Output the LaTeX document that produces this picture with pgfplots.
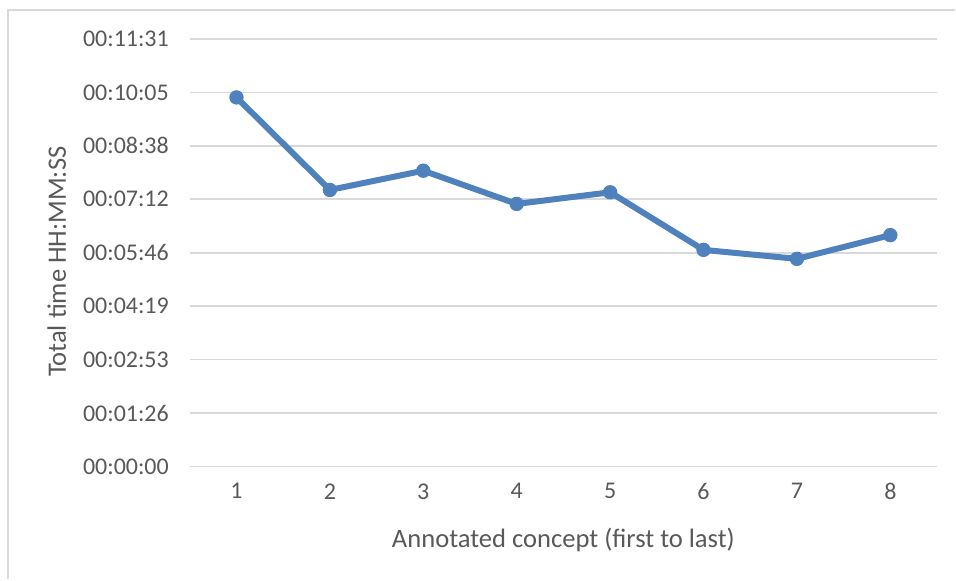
\documentclass[border=0pt]{standalone}
\usepackage{pgfplots}
\pgfplotsset{compat=1.18}
\usepackage{fontspec}
\setmainfont{Carlito}
\definecolor{txt}{HTML}{595959}
\definecolor{gridc}{HTML}{D9D9D9}
\definecolor{serie}{HTML}{4F81BD}
\begin{document}
\begin{tikzpicture}
% canvas: 956 x 580 px at 0.5pt per px
\path (0,0) rectangle (478pt,290pt);
\draw[gridc, line width=1pt] (4pt,0) -- (4pt,285pt) -- (478pt,285pt);
\begin{axis}[
    at={(95pt,56.5pt)}, anchor=south west,
    scale only axis,
    width=374pt, height=214pt,
    xmin=0.5, xmax=8.5,
    ymin=0, ymax=691.2,
    xtick={1,...,8},
    ytick={0,86.4,172.8,259.2,345.6,432,518.4,604.8,691.2},
    yticklabels={00:00:00,00:01:26,00:02:53,00:04:19,00:05:46,00:07:12,00:08:38,00:10:05,00:11:31},
    scaled y ticks=false,
    major tick length=0pt,
    axis line style={draw=none},
    ymajorgrids,
    grid style={gridc, line width=0.8pt},
    tick label style={txt, font=\fontsize{12}{14}\selectfont},
    /pgf/number format/assume math mode=true,
    yticklabel style={xshift=-7pt},
    xticklabel style={yshift=-5pt},
    label style={txt, font=\fontsize{13.3}{16}\selectfont},
    xlabel={Annotated concept (first to last)},
    ylabel={Total time HH:MM:SS},
    xlabel style={at={(axis description cs:0.5,-0.1706)}, anchor=center},
    ylabel style={at={(axis description cs:-0.178,0.479)}, anchor=center, rotate=0},
    clip=false,
]
\addplot[serie, line width=3pt, mark=*, mark size=3.3pt, mark options={fill=serie, draw=serie, line width=0.6pt}] coordinates {
(1,596.7) (2,447.1) (3,478.2) (4,424.5) (5,443.3) (6,350.2) (7,335.7) (8,374.0)
};
\end{axis}
\end{tikzpicture}
\end{document}
